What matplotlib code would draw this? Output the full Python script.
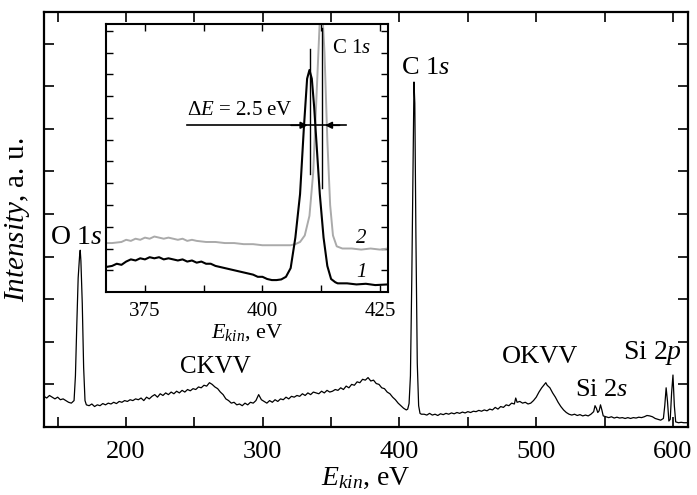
import matplotlib
matplotlib.use('Agg')
import matplotlib.pyplot as plt
from matplotlib.ticker import FixedLocator, NullFormatter

plt.rcParams['font.family'] = 'Liberation Serif'
plt.rcParams['mathtext.fontset'] = 'custom'
plt.rcParams['mathtext.rm'] = 'Liberation Serif'
plt.rcParams['mathtext.it'] = 'Liberation Serif:italic'

# survey spectrum (kinetic energy, eV / intensity, a.u.)
e_main = [140, 142, 144, 146, 148, 150, 152, 154, 156, 158, 160, 162, 163, 164, 165, 166, 166.5, 167, 168, 169,
          170, 171, 173, 175, 177, 179, 181, 183, 185, 187, 189, 191, 193, 195, 197, 199, 201, 203, 205, 207,
          209, 211, 213, 215, 217, 219, 221, 223, 225, 227, 229, 231, 233, 235, 237, 239, 241, 243, 245, 247,
          249, 251, 253, 255, 257, 259, 261, 263, 265, 267, 269, 271, 273, 275, 277, 279, 281, 283, 285, 287,
          289, 291, 293, 295, 297, 299, 301, 303, 305, 307, 309, 311, 313, 315, 317, 319, 321, 323, 325, 327,
          329, 331, 333, 335, 337, 339, 341, 343, 345, 347, 349, 351, 353, 355, 357, 359, 361, 363, 365, 367,
          369, 371, 373, 375, 377, 379, 381, 383, 385, 387, 389, 391, 393, 395, 397, 399, 401, 403, 405, 406,
          407, 408, 409, 410, 410.6, 411.2, 412, 413, 414, 415, 416, 418, 420, 422, 424, 426, 428, 430, 432, 434,
          436, 438, 440, 442, 444, 446, 448, 450, 452, 454, 456, 458, 460, 462, 464, 466, 468, 470, 472, 474,
          476, 478, 480, 482, 484, 485, 486, 488, 490, 492, 494, 496, 498, 500, 502, 504, 506, 507, 508, 510,
          512, 514, 516, 518, 520, 522, 524, 526, 528, 530, 532, 534, 536, 538, 540, 542, 543, 544, 545, 546,
          547, 548, 549, 551, 553, 555, 557, 559, 561, 563, 565, 567, 569, 571, 573, 575, 577, 579, 581, 583,
          585, 587, 589, 591, 593, 594, 595, 596, 597, 598, 599, 600, 601, 602, 604, 606, 608, 611]
i_main = [0.72, 0.68, 0.74, 0.70, 0.66, 0.70, 0.64, 0.66, 0.62, 0.58, 0.56, 0.62, 1.2, 2.4, 3.5, 4.0, 4.15, 3.9, 2.9, 1.4,
          0.62, 0.52, 0.50, 0.54, 0.48, 0.52, 0.50, 0.55, 0.52, 0.56, 0.54, 0.58, 0.55, 0.60, 0.58, 0.62, 0.60, 0.64, 0.62, 0.66,
          0.64, 0.68, 0.62, 0.70, 0.66, 0.72, 0.76, 0.70, 0.78, 0.74, 0.80, 0.76, 0.82, 0.78, 0.84, 0.80, 0.86, 0.82, 0.88, 0.85,
          0.90, 0.88, 0.94, 0.92, 0.98, 0.96, 1.04, 1.00, 0.94, 0.90, 0.82, 0.76, 0.66, 0.62, 0.56, 0.58, 0.52, 0.54, 0.50, 0.56,
          0.52, 0.58, 0.56, 0.62, 0.76, 0.64, 0.60, 0.56, 0.62, 0.58, 0.64, 0.60, 0.66, 0.64, 0.70, 0.66, 0.72, 0.70, 0.74, 0.72,
          0.78, 0.74, 0.80, 0.76, 0.82, 0.80, 0.78, 0.84, 0.80, 0.86, 0.82, 0.84, 0.88, 0.86, 0.92, 0.88, 0.96, 0.92, 1.00, 0.98,
          1.06, 1.04, 1.12, 1.10, 1.16, 1.08, 1.10, 1.02, 1.00, 0.92, 0.90, 0.82, 0.78, 0.70, 0.64, 0.56, 0.50, 0.44, 0.40, 0.42,
          0.55, 1.2, 3.5, 6.5, 8.1, 7.6, 4.5, 1.5, 0.5, 0.32, 0.30, 0.30, 0.28, 0.32, 0.28, 0.30, 0.27, 0.31, 0.29, 0.32,
          0.30, 0.33, 0.31, 0.34, 0.32, 0.35, 0.33, 0.36, 0.34, 0.37, 0.36, 0.39, 0.37, 0.40, 0.38, 0.42, 0.40, 0.46, 0.42, 0.48,
          0.46, 0.52, 0.50, 0.56, 0.54, 0.68, 0.58, 0.60, 0.56, 0.58, 0.54, 0.56, 0.62, 0.70, 0.82, 0.92, 1.00, 1.04, 0.98, 0.92,
          0.80, 0.70, 0.58, 0.48, 0.40, 0.34, 0.30, 0.28, 0.30, 0.27, 0.29, 0.26, 0.28, 0.26, 0.30, 0.36, 0.50, 0.44, 0.34, 0.38,
          0.52, 0.40, 0.26, 0.24, 0.22, 0.24, 0.21, 0.23, 0.21, 0.22, 0.20, 0.22, 0.20, 0.22, 0.21, 0.23, 0.22, 0.24, 0.27, 0.26,
          0.24, 0.20, 0.18, 0.16, 0.20, 0.50, 0.92, 0.60, 0.14, 0.18, 0.80, 1.22, 0.50, 0.12, 0.10, 0.11, 0.10, 0.10]

# inset: C 1s region, curves 1 and 2
e_in1 = [366.7, 368, 369, 370, 371, 372, 373, 374, 375, 376, 377, 378, 379, 380, 381, 382, 383, 384, 385, 386,
         387, 388, 389, 390, 391, 392, 393, 394, 395, 396, 397, 398, 399, 400, 401, 402, 403, 404, 405, 406,
         407, 408, 408.8, 409.5, 410, 410.5, 411, 411.6, 412.2, 413, 413.8, 414.6, 415.5, 416, 418, 420, 422, 424, 426.7]
i_in1 = [1.15, 1.2, 1.3, 1.25, 1.4, 1.5, 1.45, 1.55, 1.5, 1.6, 1.55, 1.6, 1.5, 1.55, 1.5, 1.45, 1.5, 1.4, 1.45, 1.35,
         1.4, 1.3, 1.3, 1.2, 1.15, 1.1, 1.05, 1.0, 0.95, 0.9, 0.85, 0.8, 0.7, 0.7, 0.6, 0.55, 0.55, 0.58, 0.7, 1.1,
         2.5, 4.5, 7.5, 9.8, 10.2, 9.8, 8.5, 6.5, 4.5, 2.5, 1.2, 0.6, 0.45, 0.4, 0.4, 0.35, 0.38, 0.32, 0.35]
e_in2 = [366.7, 368, 370, 371, 372, 373, 374, 375, 376, 377, 378, 379, 380, 381, 382, 383, 384, 385, 386, 388,
         390, 392, 394, 396, 398, 400, 402, 404, 406, 407, 408, 409, 410, 410.8, 411.5, 412.2, 412.7, 413.2, 413.8,
         414.4, 415, 415.8, 417, 419, 421, 423, 425, 426.7]
i_in2 = [2.25, 2.25, 2.3, 2.4, 2.35, 2.45, 2.4, 2.5, 2.45, 2.55, 2.5, 2.45, 2.5, 2.45, 2.4, 2.45, 2.35, 2.4, 2.35, 2.3,
         2.3, 2.25, 2.25, 2.2, 2.2, 2.15, 2.15, 2.15, 2.15, 2.2, 2.3, 2.6, 3.5, 5.5, 9.0, 12.5, 13.0, 11.0, 7.0,
         4.0, 2.6, 2.1, 2.0, 2.0, 1.95, 2.0, 1.95, 2.0]

peak_pos = [410.2, 412.7]

fig = plt.figure(figsize=(6.97, 4.95), dpi=100)
ax = fig.add_axes([0.0631, 0.1374, 0.924, 0.838])
ax.plot(e_main, i_main, color='black', lw=0.9)
ax.set_xlim(140, 611)
ax.set_ylim(0, 9.74)
ax.xaxis.set_major_locator(FixedLocator([200, 300, 400, 500, 600]))
ax.xaxis.set_minor_locator(FixedLocator([150, 250, 350, 450, 550]))
ax.yaxis.set_major_locator(FixedLocator(range(1, 10)))
ax.yaxis.set_major_formatter(NullFormatter())
ax.tick_params(which='both', direction='in', top=True, right=True, length=7, width=1.2)
ax.tick_params(axis='x', labelsize=19, pad=10)
for s in ax.spines.values():
    s.set_linewidth(1.6)
ax.set_xlabel('$E_{kin}$, eV', fontsize=20, labelpad=2)
ax.set_ylabel('$Intensity$, a. u.', fontsize=21, labelpad=5)

fs = 19
ax.text(144.6, 4.44, 'O 1$s$', fontsize=20, va='center')
ax.text(401.2, 8.43, 'C 1$s$', fontsize=fs, va='center')
ax.text(239.4, 1.41, 'CKVV', fontsize=18, va='center')
ax.text(474.8, 1.64, 'OKVV', fontsize=fs, va='center')
ax.text(528.7, 0.87, 'Si 2$s$', fontsize=fs, va='center')
ax.text(563.7, 1.74, 'Si 2$p$', fontsize=20, va='center')

# inset
ins = fig.add_axes([0.152, 0.410, 0.4046, 0.541])
ins.plot(e_in2, i_in2, color='#aaaaaa', lw=1.4)
ins.plot(e_in1, i_in1, color='black', lw=1.5)
ins.set_xlim(366.7, 426.7)
ins.set_ylim(0, 12.3)
ins.xaxis.set_major_locator(FixedLocator([375, 400, 425]))
ins.xaxis.set_minor_locator(FixedLocator([387.5, 412.5]))
ins.yaxis.set_major_locator(FixedLocator(range(1, 13)))
ins.yaxis.set_major_formatter(NullFormatter())
ins.tick_params(which='both', direction='in', top=True, right=True, length=5, width=1.0)
ins.tick_params(axis='x', labelsize=15, pad=7)
for s in ins.spines.values():
    s.set_linewidth(1.5)
ins.set_xlabel('$E_{kin}$, eV', fontsize=16, labelpad=1)

ins.plot([peak_pos[0], peak_pos[0]], [5.4, 11.15], color='black', lw=1.0)
ins.plot([peak_pos[1], peak_pos[1]], [4.8, 12.15], color='black', lw=1.0)
ins.plot([383.9, 417.8], [7.66, 7.66], color='black', lw=1.2)
ins.annotate('', xy=(peak_pos[0], 7.66), xytext=(405.5, 7.66),
             arrowprops=dict(arrowstyle='-|>', color='black', lw=1.2, mutation_scale=10))
ins.annotate('', xy=(peak_pos[1], 7.66), xytext=(417.0, 7.66),
             arrowprops=dict(arrowstyle='-|>', color='black', lw=1.2, mutation_scale=10))
ins.text(384.0, 7.9, r'$\Delta E$ = 2.5 eV', fontsize=15, va='bottom')
ins.text(414.8, 11.2, 'C 1$s$', fontsize=15, va='center')
ins.text(421.0, 2.45, '2', fontsize=15, style='italic', ha='center', va='center')
ins.text(421.0, 0.9, '1', fontsize=15, style='italic', ha='center', va='center')

fig.savefig('out.png', dpi=100)
